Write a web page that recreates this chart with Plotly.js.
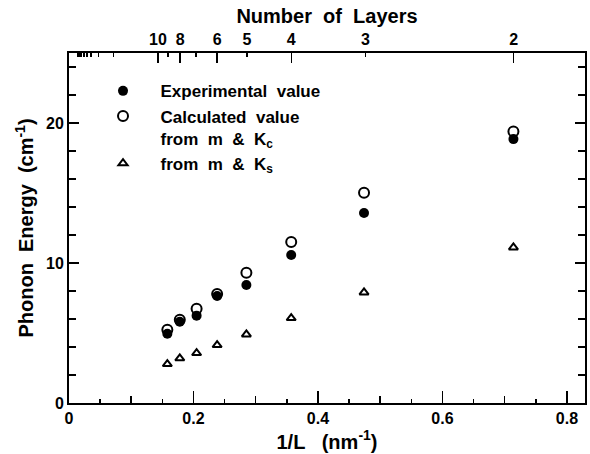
<!DOCTYPE html>
<html><head><meta charset="utf-8">
<script src="https://cdn.plot.ly/plotly-3.0.1.min.js"></script>
<style>body{margin:0;background:#fff}#c{width:590px;height:454px}</style>
</head><body><div id="c"></div>
<script>
// data
const invL = [0.158, 0.178, 0.205, 0.238, 0.285, 0.357, 0.474, 0.714];
const experimental = [4.95, 5.8, 6.24, 7.64, 8.43, 10.57, 13.57, 18.85];
const calcKc = [5.24, 5.95, 6.74, 7.78, 9.3, 11.5, 15.02, 19.4];
const calcKs = [2.78, 3.19, 3.57, 4.14, 4.9, 6.07, 7.9, 11.11];
// top axis: number of layers (layer thickness in nm)
const layerThickness = 0.7;
const labeledLayers = [10, 8, 6, 5, 4, 3, 2];
const longTickLayers = [10, 8, 6, 4, 2];
const shortTickLayers = [9, 7, 20, 30, 40, 50, 60, 70, 80, 90, 100];
const toX = n => 1 / (n * layerThickness);

const F = 'Liberation Sans, Arial, Helvetica, sans-serif';
const xr = [0, 0.829];
const traces = [
  {x: invL, y: experimental, name: 'Experimental  value', mode: 'markers', type: 'scatter',
   marker: {symbol: 'circle', size: 10, color: '#000'}},
  {x: invL, y: calcKc, name: 'Calculated  value<br>from  m  &  K<sub>c</sub>', mode: 'markers', type: 'scatter',
   marker: {symbol: 'circle-open', size: 10, color: '#000', line: {width: 2, color: '#000'}}},
  {x: invL, y: calcKs, name: 'from  m  &  K<sub>s</sub>', mode: 'markers', type: 'scatter',
   marker: {symbol: 'triangle-up-open', size: 8, color: '#000', line: {width: 2, color: '#000'}}}
];
const tf = {family: F, size: 16, color: '#000', weight: 'bold'};
const titleF = {family: F, size: 20, color: '#000', weight: 'bold'};
const layout = {
  width: 590, height: 454,
  margin: {l: 69, r: 5, t: 53, b: 51},
  paper_bgcolor: '#fff', plot_bgcolor: '#fff',
  showlegend: true,
  legend: {x: 0.032, y: 0.942, xanchor: 'left', yanchor: 'top', valign: 'top',
           font: {family: F, size: 17, color: '#000', weight: 'bold'},
           bgcolor: 'rgba(0,0,0,0)', itemwidth: 65, tracegroupgap: 0},
  xaxis: {range: xr, showgrid: false, zeroline: false, showline: true, linewidth: 2, linecolor: '#000',
          ticks: 'inside', tickvals: [0, 0.2, 0.4, 0.6, 0.8], ticktext: ['0', '0.2', '0.4', '0.6', '0.8'],
          ticklen: 12, tickwidth: 1.5, tickcolor: '#000', tickfont: tf,
          minor: {tickvals: [0.05, 0.15, 0.25, 0.35, 0.45, 0.55, 0.65, 0.75], ticks: 'inside', ticklen: 4, tickwidth: 1.5, tickcolor: '#000'},
          title: {text: '1/L   (nm<sup>-1</sup>)', font: titleF, standoff: 5}},
  xaxis3: {range: xr, overlaying: 'x', side: 'bottom', showgrid: false, zeroline: false, showline: false,
           ticks: 'inside', tickvals: [0.1, 0.3, 0.5, 0.7], ticklen: 7, tickwidth: 1.5, tickcolor: '#000', showticklabels: false},
  xaxis2: {range: xr, overlaying: 'x', side: 'top', anchor: 'y', showgrid: false, zeroline: false, showline: true, linewidth: 2, linecolor: '#000',
           ticks: 'inside', tickvals: labeledLayers.map(toX), ticktext: labeledLayers.map(String),
           ticklen: 4, tickwidth: 1.5, tickcolor: '#000', tickfont: tf,
           minor: {tickvals: shortTickLayers.map(toX), ticks: 'inside', ticklen: 4, tickwidth: 1.5, tickcolor: '#000'},
           title: {text: 'Number  of  Layers', font: titleF, standoff: 2}},
  xaxis4: {range: xr, overlaying: 'x', side: 'top', anchor: 'y', showgrid: false, zeroline: false, showline: false,
           ticks: 'inside', tickvals: longTickLayers.map(toX), ticklen: 10, tickwidth: 1.5, tickcolor: '#000', showticklabels: false},
  yaxis: {range: [0, 25], showgrid: false, zeroline: false, showline: true, linewidth: 2, linecolor: '#000', mirror: 'ticks',
          ticks: 'inside', tickvals: [0, 10, 20], ticklen: 10, tickwidth: 1.5, tickcolor: '#000', tickfont: tf,
          minor: {dtick: 2, tick0: 0, ticks: 'inside', ticklen: 7, tickwidth: 1.5, tickcolor: '#000'},
          title: {text: 'Phonon  Energy  (cm<sup>-1</sup>)', font: titleF, standoff: 7}}
};
// invisible traces to activate the extra axes
traces.push({x: [null], y: [null], xaxis: 'x2', showlegend: false, hoverinfo: 'skip', type: 'scatter', mode: 'markers'});
traces.push({x: [null], y: [null], xaxis: 'x3', showlegend: false, hoverinfo: 'skip', type: 'scatter', mode: 'markers'});
traces.push({x: [null], y: [null], xaxis: 'x4', showlegend: false, hoverinfo: 'skip', type: 'scatter', mode: 'markers'});
Plotly.newPlot('c', traces, layout, {staticPlot: true});
</script></body></html>
